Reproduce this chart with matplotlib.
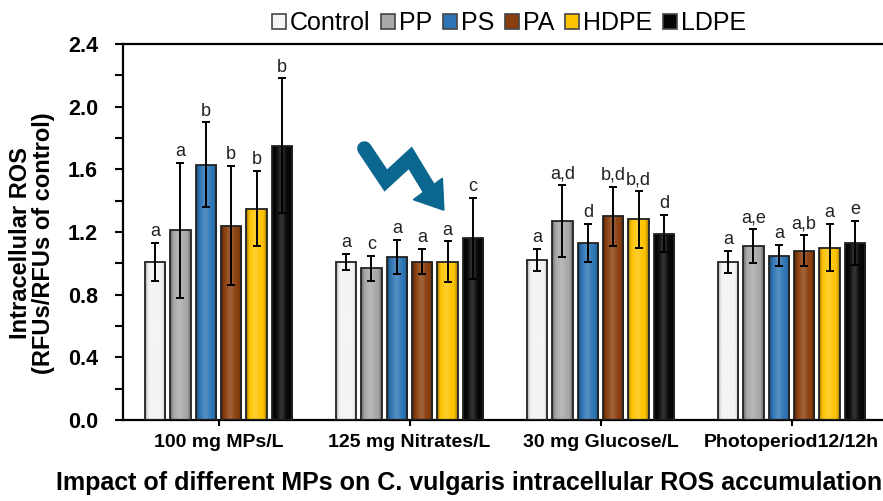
"""
Intracellular ROS of C. vulgaris under different microplastics (MPs),
grouped by culture condition, with SD error bars and significance letters.
"""

import matplotlib.pyplot as plt
import numpy as np
from matplotlib.lines import Line2D
from matplotlib.patches import Polygon, Rectangle
from matplotlib.ticker import MultipleLocator

plt.rcParams["font.family"] = ["Liberation Sans", "DejaVu Sans"]

groups = ["100 mg MPs/L", "125 mg Nitrates/L", "30 mg Glucose/L", "Photoperiod12/12h"]
series = ["Control", "PP", "PS", "PA", "HDPE", "LDPE"]

control = [1.01, 1.01, 1.02, 1.01]
pp = [1.21, 0.97, 1.27, 1.11]
ps = [1.63, 1.04, 1.13, 1.05]
pa = [1.24, 1.01, 1.30, 1.08]
hdpe = [1.35, 1.01, 1.28, 1.10]
ldpe = [1.75, 1.16, 1.19, 1.13]

control_err = [0.12, 0.05, 0.07, 0.07]
pp_err = [0.43, 0.08, 0.23, 0.11]
ps_err = [0.27, 0.11, 0.12, 0.07]
pa_err = [0.38, 0.08, 0.19, 0.10]
hdpe_err = [0.24, 0.13, 0.18, 0.15]
ldpe_err = [0.43, 0.26, 0.12, 0.14]

control_sig = ["a", "a", "a", "a"]
pp_sig = ["a", "c", "a,d", "a,e"]
ps_sig = ["b", "a", "d", "a"]
pa_sig = ["b", "a", "b,d", "a,b"]
hdpe_sig = ["b", "a", "b,d", "a"]
ldpe_sig = ["b", "c", "d", "e"]

colors = ["#f4f4f4", "#a8a8a8", "#2e75b6", "#8a3f0e", "#ffc400", "#050505"]


def bevel_image(color, n=48):
    # horizontal shading: darker bevel at the edges, soft highlight in the middle
    base = np.array(plt.matplotlib.colors.to_rgb(color))
    t = np.linspace(0, 1, n)
    edge = np.clip(1 - np.minimum(t, 1 - t) / 0.2, 0, 1)
    shade = 1 - 0.42 * edge ** 1.5
    glow = 0.18 * np.exp(-((t - 0.45) / 0.18) ** 2)
    rgb = base[None, :] * shade[:, None]
    rgb = rgb + (1 - rgb) * glow[:, None]
    if color == "#f4f4f4":
        rgb = base[None, :] * (1 - 0.3 * edge[:, None] ** 1.5)
    return np.clip(rgb[None, :, :], 0, 1)


def main() -> None:
    fig = plt.figure(figsize=(8.83, 5.01), dpi=100)
    ax = fig.add_axes([123 / 883, 81 / 501, 764 / 883, 376 / 501])

    means = [control, pp, ps, pa, hdpe, ldpe]
    errs = [control_err, pp_err, ps_err, pa_err, hdpe_err, ldpe_err]
    sigs = [control_sig, pp_sig, ps_sig, pa_sig, hdpe_sig, ldpe_sig]

    x = np.arange(len(groups))
    step = 0.1327
    width = 0.1075

    for i, name in enumerate(series):
        xs = x + (i - 2.5) * step
        bars = ax.bar(xs, means[i], width, facecolor="none", edgecolor="#222222",
                      linewidth=1.3, zorder=3)
        img = bevel_image(colors[i])
        for b in bars:
            im = ax.imshow(img, extent=[b.get_x(), b.get_x() + b.get_width(), 0, b.get_height()],
                           aspect="auto", zorder=2, interpolation="bilinear")
            im.set_clip_path(b)
        ax.errorbar(xs, means[i], yerr=errs[i], fmt="none", ecolor="black",
                    elinewidth=1.4, capsize=3, capthick=1.4, zorder=4)
        for xi, m, e, s in zip(xs, means[i], errs[i], sigs[i]):
            ax.annotate(s, (xi, m + e), xytext=(0, 2), textcoords="offset points",
                        ha="center", va="bottom", fontsize=13, color="#222222")

    ax.set_xlim(-0.5, 3.5)
    ax.set_ylim(0, 2.4)
    ax.yaxis.set_major_locator(MultipleLocator(0.4))
    ax.yaxis.set_minor_locator(MultipleLocator(0.2))
    ax.yaxis.set_major_formatter(plt.FormatStrFormatter("%.1f"))
    ax.set_xticks(x)
    ax.set_xticklabels(groups, fontsize=14, fontweight="bold")
    for lab in ax.get_yticklabels():
        lab.set_fontsize(15.5)
        lab.set_fontweight("bold")
    ax.tick_params(axis="y", which="major", direction="out", length=6, width=1.5, pad=12)
    ax.tick_params(axis="y", which="minor", direction="out", length=6, width=1.5)
    ax.tick_params(axis="x", direction="out", length=4, width=1.5, pad=6)
    for side in ["left", "bottom", "top"]:
        ax.spines[side].set_linewidth(1.6)
    ax.spines["right"].set_visible(False)

    # decorative downward zig-zag arrow
    arrow_c = "#0b6790"
    ax.add_line(Line2D([0.316, 0.344, 0.376, 0.402], [0.722, 0.637, 0.697, 0.610],
                       transform=ax.transAxes, color=arrow_c, linewidth=10.5,
                       solid_joinstyle="miter", solid_capstyle="round", zorder=5))
    ax.add_patch(Polygon([[0.380, 0.586], [0.418, 0.643], [0.420, 0.558]],
                         closed=True, transform=ax.transAxes, color=arrow_c, zorder=5))

    handles = [Rectangle((0, 0), 1, 1, facecolor=c, edgecolor="#444444", linewidth=1.2)
               for c in colors]
    fig.legend(handles, series, loc="center", bbox_to_anchor=(509 / 883, 1 - 23 / 501),
               ncol=6, frameon=False, fontsize=18, handlelength=0.55, handleheight=0.55,
               handletextpad=0.15, columnspacing=0.45, borderpad=0)

    fig.text(32 / 883, 1 - 243 / 501, "Intracellular ROS\n(RFUs/RFUs of control)",
             rotation=90, ha="center", va="center", fontsize=17, fontweight="bold",
             linespacing=0.95)
    fig.text(56 / 883, 1 - 483 / 501,
             "Impact of different MPs on C. vulgaris intracellular ROS accumulation",
             ha="left", va="center", fontsize=18, fontweight="bold")

    fig.savefig("out.png", dpi=100)


if __name__ == "__main__":
    main()
